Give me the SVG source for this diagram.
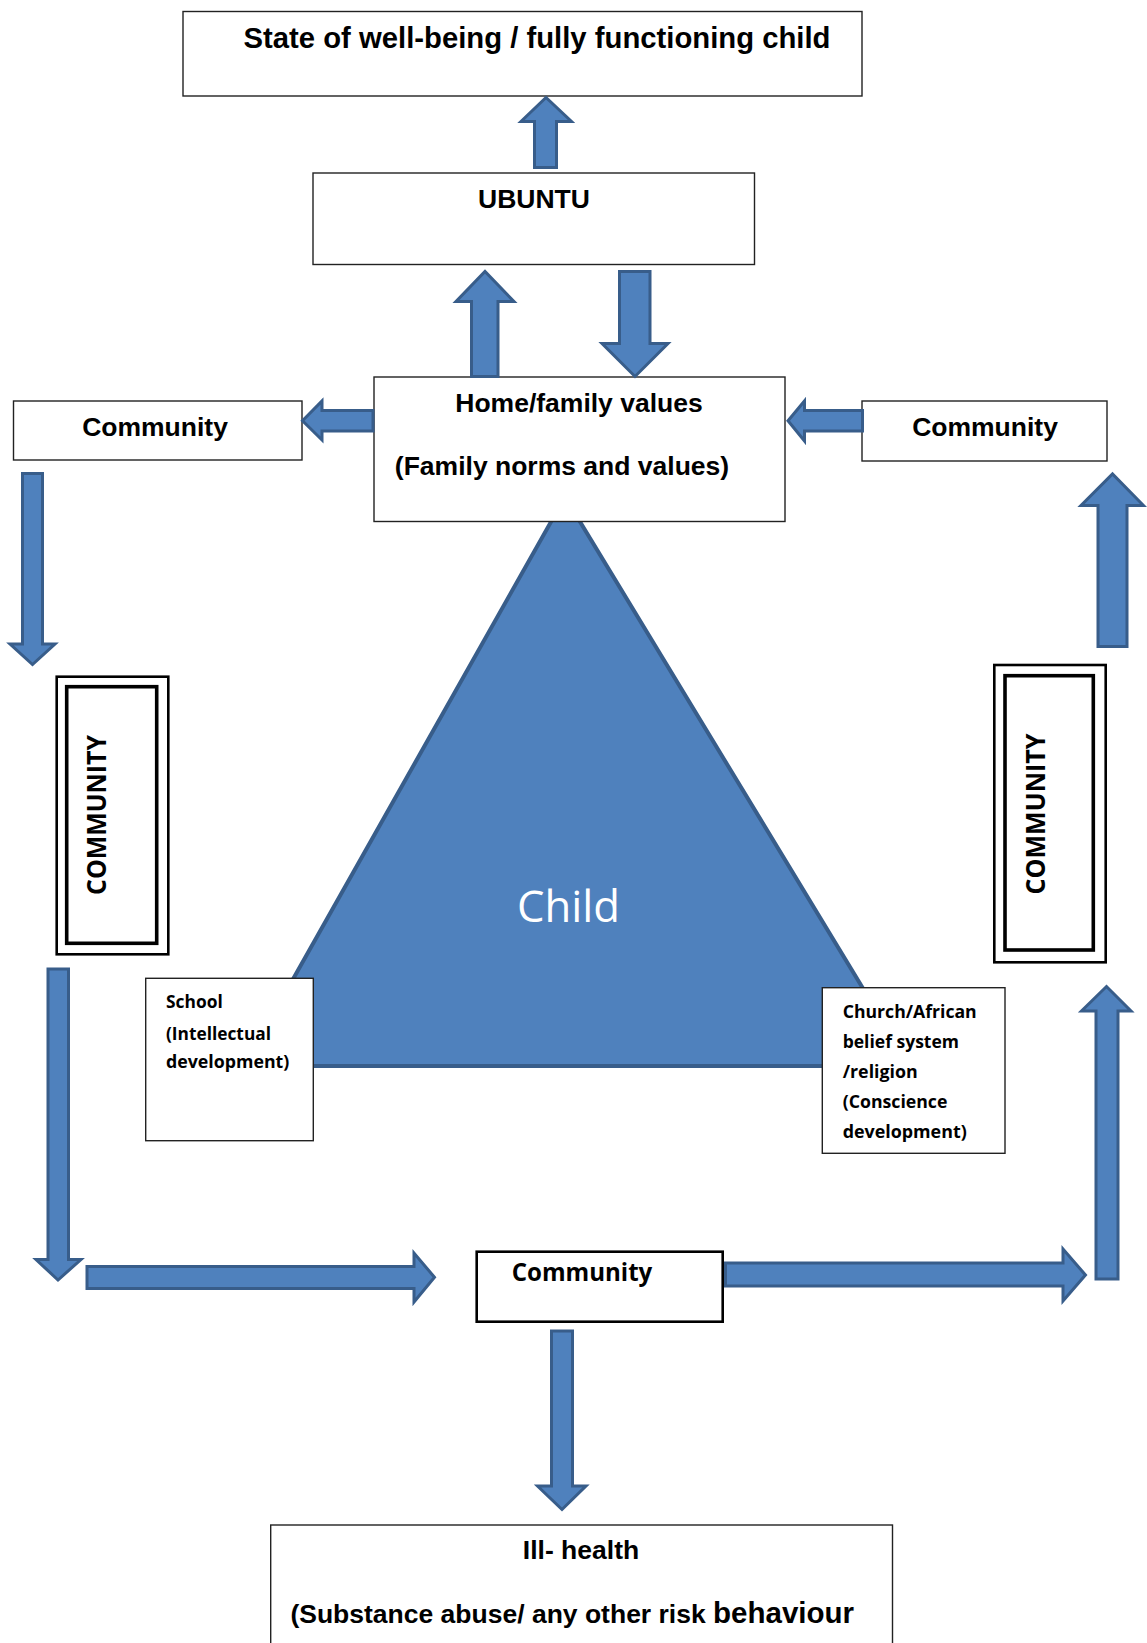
<svg xmlns="http://www.w3.org/2000/svg" width="1147" height="1643" viewBox="0 0 1147 1643">
<style>
.box{fill:#fff;stroke:#222;stroke-width:1.4}
.arw{fill:#4F81BD;stroke:#385D8A;stroke-width:3;stroke-linejoin:miter}
.a{font-family:"Liberation Sans",Arial,sans-serif;font-weight:bold;fill:#000}
.c{font-family:"Open Sans",Lato,sans-serif;font-weight:bold;fill:#000}
</style>
<rect width="1147" height="1643" fill="#fff"/>

<g id="child">
<polygon points="565,497 244,1066 910,1066" fill="#4F81BD" stroke="#385D8A" stroke-width="4"/>
<text x="517" y="922" font-family="'Open Sans',Lato,sans-serif" font-size="44" fill="#fff" textLength="103" lengthAdjust="spacingAndGlyphs">Child</text>
</g>

<g id="wellbeing">
<rect class="box" x="183" y="11.5" width="679" height="84.5"/>
<text class="a" x="537" y="48" font-size="29" text-anchor="middle" textLength="587" lengthAdjust="spacingAndGlyphs">State of well-being / fully functioning child</text>
</g>

<g id="ubuntu">
<rect class="box" x="313" y="173" width="441.5" height="91.5"/>
<text class="a" x="534" y="208" font-size="26.5" text-anchor="middle">UBUNTU</text>
</g>

<g id="home">
<rect class="box" x="374" y="377" width="411" height="144.5"/>
<text class="a" x="579" y="411.5" font-size="26.5" text-anchor="middle">Home/family values</text>
<text class="a" x="562" y="475" font-size="26.5" text-anchor="middle">(Family norms and values)</text>
</g>

<g id="community-left">
<rect class="box" x="13.5" y="401" width="288.5" height="59"/>
<text class="a" x="155" y="435.5" font-size="26.5" text-anchor="middle">Community</text>
</g>

<g id="community-right">
<rect class="box" x="862" y="401" width="245" height="60"/>
<text class="a" x="985" y="435.5" font-size="26.5" text-anchor="middle">Community</text>
</g>

<g id="community-vertical-left">
<rect x="56.7" y="676.7" width="111.6" height="277.6" fill="#fff" stroke="#000" stroke-width="2.6"/>
<rect x="66.7" y="686.7" width="90" height="256.6" fill="none" stroke="#000" stroke-width="3.6"/>
<text class="c" transform="translate(106,815) rotate(-90)" font-size="26" text-anchor="middle" textLength="160" lengthAdjust="spacingAndGlyphs">COMMUNITY</text>
</g>

<g id="community-vertical-right">
<rect x="994.3" y="665" width="111.4" height="297.3" fill="#fff" stroke="#000" stroke-width="2.6"/>
<rect x="1005" y="675.7" width="88.3" height="274.3" fill="none" stroke="#000" stroke-width="3.6"/>
<text class="c" transform="translate(1045,814) rotate(-90)" font-size="26" text-anchor="middle" textLength="161" lengthAdjust="spacingAndGlyphs">COMMUNITY</text>
</g>

<g id="school">
<rect class="box" x="145.7" y="978.3" width="167.6" height="162.4"/>
<text class="c" x="166" y="1008.3" font-size="18" textLength="56.7" lengthAdjust="spacingAndGlyphs">School</text>
<text class="c" x="166" y="1040" font-size="18" textLength="105" lengthAdjust="spacingAndGlyphs">(Intellectual</text>
<text class="c" x="166" y="1068.3" font-size="18" textLength="123.3" lengthAdjust="spacingAndGlyphs">development)</text>
</g>

<g id="church">
<rect class="box" x="822.3" y="987.7" width="182.7" height="165.6"/>
<text class="c" x="842.7" y="1018.3" font-size="18" textLength="134" lengthAdjust="spacingAndGlyphs">Church/African</text>
<text class="c" x="842.7" y="1048.3" font-size="18" textLength="116.3" lengthAdjust="spacingAndGlyphs">belief system</text>
<text class="c" x="842.7" y="1077.7" font-size="18" textLength="75" lengthAdjust="spacingAndGlyphs">/religion</text>
<text class="c" x="842.7" y="1107.7" font-size="18" textLength="104.7" lengthAdjust="spacingAndGlyphs">(Conscience</text>
<text class="c" x="842.7" y="1137.7" font-size="18" textLength="124" lengthAdjust="spacingAndGlyphs">development)</text>
</g>

<g id="community-bottom">
<rect x="476.7" y="1251.7" width="246" height="70" fill="#fff" stroke="#000" stroke-width="2.6"/>
<text class="c" x="511.7" y="1281" font-size="25" textLength="140.6" lengthAdjust="spacingAndGlyphs">Community</text>
</g>

<g id="ill-health">
<rect class="box" x="270.7" y="1525" width="621.8" height="140"/>
<text class="a" x="581" y="1559.3" font-size="26.5" text-anchor="middle">Ill- health</text>
<text class="a" x="290.4" y="1623.3" font-size="26.5">(Substance abuse/ any other risk <tspan font-size="29.5">behaviour</tspan></text>
</g>

<g id="connectors">
<polygon class="arw" points="534.5,167.5 534.5,121.5 521,121.5 546,97.5 571.5,121.5 556.5,121.5 556.5,167.5"/>
<polygon class="arw" points="471.5,376.5 471.5,301.5 456,301.5 485,271.5 514,301.5 498,301.5 498,376.5"/>
<polygon class="arw" points="619.5,271.5 619.5,343.5 602,343.5 635,376.5 668,343.5 650,343.5 650,271.5"/>
<polygon class="arw" points="373,410.5 322,410.5 322,401 302.5,420.7 322,440 322,431 373,431"/>
<polygon class="arw" points="862.5,410.5 804.5,410.5 804.5,401 788,420.7 804.5,441 804.5,431 862.5,431"/>
<polygon class="arw" points="22.5,473.5 22.5,644 10,644 32.5,664.5 55,644 42.5,644 42.5,473.5"/>
<polygon class="arw" points="1098,646.5 1098,505.5 1081,505.5 1112.5,474 1143.5,505.5 1127,505.5 1127,646.5"/>
<polygon class="arw" points="48,969 48,1259.5 36,1259.5 58,1280 81,1259.5 68.5,1259.5 68.5,969"/>
<polygon class="arw" points="87,1266.5 414,1266.5 414,1253 434.5,1277.3 414,1302 414,1288.5 87,1288.5"/>
<polygon class="arw" points="725.5,1263 1063,1263 1063,1249 1085.5,1275 1063,1301 1063,1286 725.5,1286"/>
<polygon class="arw" points="1096,1279 1096,1011 1081.5,1011 1106.5,986.5 1131,1011 1118,1011 1118,1279"/>
<polygon class="arw" points="551.5,1331 551.5,1486 537.5,1486 562,1509.5 586,1486 572.5,1486 572.5,1331"/>
</g>
</svg>
